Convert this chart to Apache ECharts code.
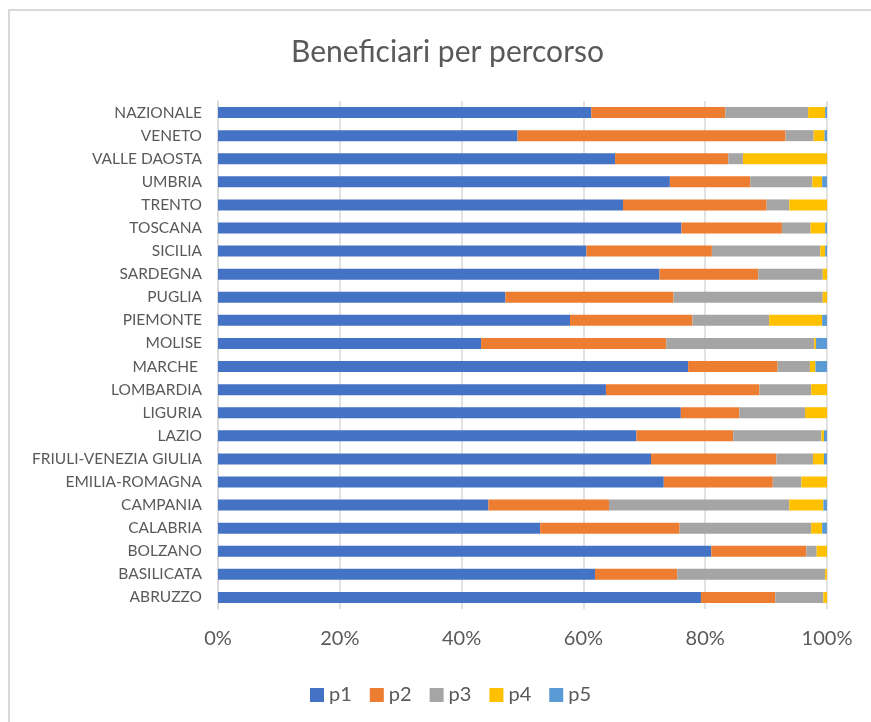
<!DOCTYPE html>
<html lang="it">
<head>
    <meta charset="UTF-8">
    <title>Beneficiari per percorso</title>
    <script src="https://cdn.jsdelivr.net/npm/echarts@6/dist/echarts.min.js"></script>
    <style>
        html, body { margin: 0; background: #fff; overflow: hidden; }
        #frame { position: absolute; left: 8px; top: 9px; width: 900px; height: 800px;
                 border-left: 2px solid #d9d9d9; border-top: 2px solid #d9d9d9; }
        #chart { position: absolute; left: 0; top: 0; width: 871px; height: 722px; }
    </style>
</head>
<body>
<div id="frame"></div>
<div id="chart"></div>
<script>
    // categorie dal basso verso l'alto
    var regioni = ['ABRUZZO', 'BASILICATA', 'BOLZANO', 'CALABRIA', 'CAMPANIA', 'EMILIA-ROMAGNA',
        'FRIULI-VENEZIA GIULIA', 'LAZIO', 'LIGURIA', 'LOMBARDIA', 'MARCHE ', 'MOLISE', 'PIEMONTE',
        'PUGLIA', 'SARDEGNA', 'SICILIA', 'TOSCANA', 'TRENTO', 'UMBRIA', 'VALLE DAOSTA', 'VENETO', 'NAZIONALE'];

    var p1 = [79.3, 61.9, 81.0, 52.9, 44.4, 73.2, 71.1, 68.7, 76.0, 63.7, 77.2, 43.2, 57.8, 47.2, 72.5, 60.5, 76.1, 66.5, 74.2, 65.2, 49.2, 61.3];
    var p2 = [12.2, 13.5, 15.6, 22.9, 19.8, 17.9, 20.6, 15.9, 9.6, 25.2, 14.7, 30.4, 20.1, 27.6, 16.2, 20.6, 16.5, 23.6, 13.2, 18.6, 44.0, 22.0];
    var p3 = [7.9, 24.3, 1.7, 21.6, 29.6, 4.7, 6.0, 14.5, 10.8, 8.5, 5.3, 24.3, 12.6, 24.5, 10.6, 17.8, 4.7, 3.7, 10.2, 2.4, 4.6, 13.6];
    var p4 = [0.6, 0.3, 1.7, 1.8, 5.6, 4.2, 1.8, 0.4, 3.6, 2.6, 0.9, 0.3, 8.7, 0.7, 0.7, 0.8, 2.4, 6.2, 1.6, 13.8, 1.8, 2.8];
    var p5 = [0, 0, 0, 0.8, 0.6, 0, 0.5, 0.5, 0, 0, 1.9, 1.8, 0.8, 0, 0, 0.3, 0.3, 0, 0.8, 0, 0.4, 0.3];

    var nomi = ['p1', 'p2', 'p3', 'p4', 'p5'];
    var colori = ['#4472C4', '#ED7D31', '#A5A5A5', '#FFC000', '#5B9BD5'];
    var valori = [p1, p2, p3, p4, p5];

    var series = [];
    for (var i = 0; i < nomi.length; i++) {
        series.push({
            name: nomi[i],
            type: 'bar',
            stack: 'tot',
            barWidth: 11,
            itemStyle: { color: colori[i] },
            data: valori[i]
        });
    }

    var chart = echarts.init(document.getElementById('chart'));
    chart.setOption({
        animation: false,
        textStyle: { fontFamily: 'Lato, "Open Sans", sans-serif' },
        title: {
            text: 'Beneficiari per percorso',
            left: 286,
            top: 32,
            textStyle: { fontSize: 30, fontWeight: 'normal', color: '#595959', fontFamily: 'Lato' }
        },
        legend: {
            top: 680,
            left: 305,
            itemWidth: 14,
            itemHeight: 14,
            itemGap: 18,
            icon: 'rect',
            textStyle: { fontSize: 20, color: '#595959', fontFamily: 'Lato' },
            data: nomi
        },
        grid: { left: 218, right: 44, top: 101, bottom: 113 },
        xAxis: {
            type: 'value',
            min: 0,
            max: 100,
            interval: 20,
            axisLabel: { formatter: '{value}%', fontSize: 20, color: '#595959', margin: 20 },
            splitLine: { lineStyle: { color: '#d9d9d9', width: 1.5 } },
            axisLine: { show: false },
            axisTick: { show: false }
        },
        yAxis: {
            type: 'category',
            data: regioni,
            axisLabel: { fontSize: 15.5, color: '#595959', margin: 16 },
            axisLine: { lineStyle: { color: '#d9d9d9', width: 1.5 } },
            axisTick: { show: false }
        },
        series: series
    });
</script>
</body>
</html>
